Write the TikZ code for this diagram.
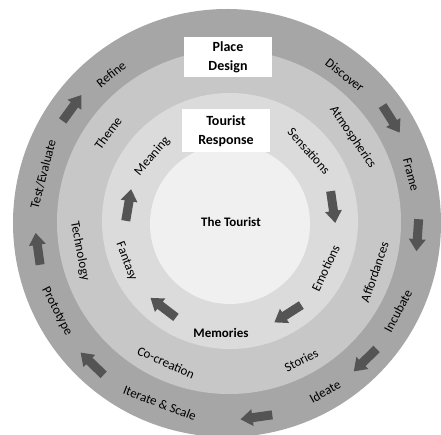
\documentclass[tikz,border=0pt]{standalone}
\usepackage{fontspec}
\setmainfont{Carlito}

\begin{document}
\begin{tikzpicture}
[x=1pt,y=1pt,
 lbl/.style={font=\fontsize{13}{15}\selectfont, inner sep=0pt},
 hdr/.style={fill=white, font=\fontsize{14}{19}\selectfont\bfseries, align=center, minimum width=87pt, inner sep=0pt},
 blkarrow/.pic={\fill[black!67] (-16,-4.5) -- (4,-4.5) -- (4,-8.5) -- (16,0) -- (4,8.5) -- (4,4.5) -- (-16,4.5) -- cycle;},
]
\useasboundingbox (-229,-213) rectangle (212,222);
\def \rout {214}
\def \rmid {172}
\def \rin {128}
\def \rcore {80}
% rings, outer to core
\fill[black!35] (-2,-1) circle (\rout);
\fill[black!22] (0,0) circle (\rmid);
\fill[black!14] (1,1) circle (\rin);
\fill[black!6] (1,-2) circle (\rcore);

% place design ring
\foreach \a/\r/\t [count=\i] in {51.7/187/Discover, 14.5/188/Frame, 165.5/192/{Test/Evaluate}, 128.6/189/Refine}
{\node[lbl, rotate=\a-90] (pu\i) at (\a:\r) {\t};}
\foreach \a/\r/\t [count=\i] in {-27.8/191/Incubate, -60.5/195/Ideate, -110.9/194/Iterate \& Scale, -152.6/194/Prototype}
{\node[lbl, rotate=\a+90] (pl\i) at (\a:\r) {\t};}
\foreach \a/\r [count=\i] in {32.4/192, -4/189, -45.4/194, -82/197, -134/197, -172/193, 144/194}
{\pic[rotate=\a-90] (pa\i) at (\a:\r) {blkarrow};}

% middle ring
\foreach \a/\r/\t [count=\i] in {34.4/150/Atmospherics, 143.7/150/Theme}
{\node[lbl, rotate=\a-90] (mu\i) at (\a:\r) {\t};}
\foreach \a/\r/\t [count=\i] in {-18.9/154/Affordances, -62.4/156/Stories, -114.1/154/Co-creation, -169/152/Technology}
{\node[lbl, rotate=\a+90] (ml\i) at (\a:\r) {\t};}

% tourist response ring
\foreach \a/\r/\t [count=\i] in {41.6/107/Sensations, 139.4/101/Meaning}
{\node[lbl, rotate=\a-90] (tu\i) at (\a:\r) {\t};}
\foreach \a/\r/\t [count=\i] in {-25.4/107/Emotions, -159/110/Fantasy}
{\node[lbl, rotate=\a+90] (tl\i) at (\a:\r) {\t};}
\foreach \a/\r [count=\i] in {8.2/105, -57.3/109, -127.5/108, 170.4/102}
{\pic[rotate=\a-90] (ta\i) at (\a:\r) {blkarrow};}
\node[lbl, font=\fontsize{13}{15}\selectfont\bfseries] (memo) at (-8,-111) {Memories};

% headings
\node[hdr, minimum height=40pt] (place) at (-1,165) {Place\\Design};
\node[hdr, minimum height=43pt] (resp) at (-3,91) {Tourist\\Response};
\node[lbl, font=\fontsize{13}{15}\selectfont\bfseries] (core) at (2,0) {The Tourist};
\end{tikzpicture}
\end{document}
